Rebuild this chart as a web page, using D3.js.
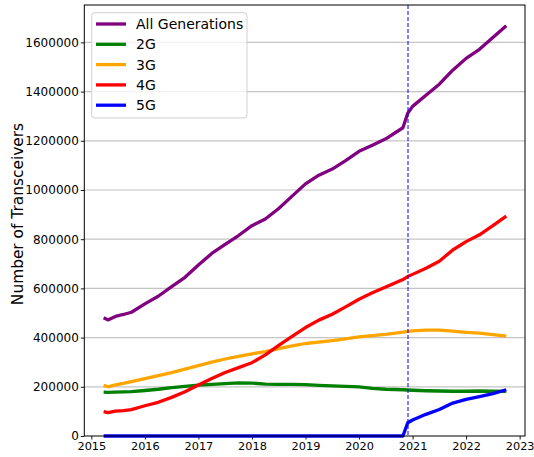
<!DOCTYPE html>
<html>
<head>
<meta charset="utf-8">
<script src="https://cdn.jsdelivr.net/npm/d3@7"></script>
<style>
  html, body { margin: 0; padding: 0; background: #fff; }
  svg { display: block; font-family: "DejaVu Sans", sans-serif; }
</style>
</head>
<body>
<svg id="chart" width="534" height="457"></svg>
<script>
// Decimal-year sample dates
const dates = [2015.23, 2015.31, 2015.45, 2015.6, 2015.75, 2016.0, 2016.25, 2016.5, 2016.75,
  2017.0, 2017.25, 2017.5, 2017.75, 2018.0, 2018.25, 2018.5, 2018.75, 2019.0, 2019.25, 2019.5,
  2019.75, 2020.0, 2020.25, 2020.5, 2020.82, 2020.91, 2021.0, 2021.25, 2021.5, 2021.75,
  2022.0, 2022.25, 2022.5, 2022.75];

const allGenerations = [481000, 472000, 486000, 494000, 503000, 537000, 568000, 607000, 645000,
  695000, 742000, 779000, 815000, 855000, 882000, 925000, 975000, 1025000, 1060000, 1085000,
  1119000, 1157000, 1182000, 1208000, 1253000, 1312000, 1340000, 1385000, 1430000, 1487000,
  1535000, 1572000, 1620000, 1668000];

const gen2G = [178000, 177000, 178000, 179000, 180000, 185000, 190000, 197000, 202000,
  207000, 210000, 213000, 216000, 215000, 211000, 210000, 210000, 209000, 206000, 204000,
  202000, 200000, 194000, 190000, 188000, 187000, 186000, 184000, 183000, 182000,
  182000, 183000, 182000, 181000];

const gen3G = [206000, 200000, 208000, 214000, 221000, 233000, 245000, 258000, 272000,
  286000, 300000, 313000, 324000, 334000, 343000, 355000, 366000, 376000, 382000, 388000,
  395000, 403000, 408000, 413000, 422000, 425000, 427000, 430000, 430000, 426000,
  421000, 418000, 412000, 406000];

const gen4G = [99000, 95000, 101000, 103000, 107000, 123000, 137000, 157000, 180000,
  207000, 234000, 258000, 278000, 298000, 330000, 368000, 405000, 441000, 471000, 495000,
  525000, 556000, 582000, 606000, 636000, 648000, 657000, 682000, 710000, 756000,
  790000, 818000, 855000, 894000];

const gen5G = [0, 0, 0, 0, 0, 0, 0, 0, 0,
  0, 0, 0, 0, 0, 0, 0, 0, 0, 0, 0,
  0, 0, 0, 0, 0, 54000, 65000, 88000, 108000, 134000,
  149000, 160000, 172000, 188000];

const seriesNames = ["All Generations", "2G", "3G", "4G", "5G"];
const seriesColors = ["#800080", "#008000", "#FFA500", "#FF0000", "#0000FF"];
const seriesValues = [allGenerations, gen2G, gen3G, gen4G, gen5G];

const xTickValues = [2015, 2016, 2017, 2018, 2019, 2020, 2021, 2022, 2023];
const yTickValues = [0, 200000, 400000, 600000, 800000, 1000000, 1200000, 1400000, 1600000];
const cutoverDate = 2020.915;
const yLabel = "Number of Transceivers";

const svg = d3.select("#chart");
const L = 84.3, R = 525, T = 5, B = 436;

const x = d3.scaleLinear().domain([2014.869, 2023.1]).range([L, R]);
const y = d3.scaleLinear().domain([0, 1752000]).range([B, T]);

// grid
svg.append("g").selectAll("line").data(yTickValues.filter(d => d > 0)).join("line")
  .attr("x1", L).attr("x2", R)
  .attr("y1", d => y(d)).attr("y2", d => y(d))
  .attr("stroke", "#c4c4c4").attr("stroke-width", 1.2);

// axes
const xAxis = svg.append("g").attr("transform", `translate(0,${B})`)
  .call(d3.axisBottom(x).tickValues(xTickValues).tickFormat(d3.format("d")).tickSize(3.5).tickPadding(2));
const yAxis = svg.append("g").attr("transform", `translate(${L},0)`)
  .call(d3.axisLeft(y).tickValues(yTickValues).tickFormat(d3.format("d")).tickSize(3.5).tickPadding(2));
[xAxis, yAxis].forEach(a => {
  a.select(".domain").remove();
  a.selectAll("text").attr("font-family", "DejaVu Sans").attr("fill", "#000");
  a.selectAll("line").attr("stroke", "#000").attr("stroke-width", 0.9);
});
xAxis.selectAll("text").attr("font-size", 11.3);
yAxis.selectAll("text").attr("font-size", 12);

// lines
const lineGen = d3.line().x((d, i) => x(dates[i])).y(d => y(d));
seriesValues.forEach((vals, k) => {
  svg.append("path").datum(vals)
    .attr("d", lineGen)
    .attr("fill", "none")
    .attr("stroke", seriesColors[k])
    .attr("stroke-width", 3.3)
    .attr("stroke-linejoin", "round")
    .attr("stroke-linecap", "butt");
});

// cutover dashed line
svg.append("line")
  .attr("x1", x(cutoverDate)).attr("x2", x(cutoverDate))
  .attr("y1", T).attr("y2", B)
  .attr("stroke", "#0000FF").attr("stroke-width", 1)
  .attr("stroke-dasharray", "4,2");

// frame
svg.append("rect").attr("x", L).attr("y", T).attr("width", R - L).attr("height", B - T)
  .attr("fill", "none").attr("stroke", "#000").attr("stroke-width", 1);

// y label
svg.append("text")
  .attr("transform", `translate(23,214) rotate(-90)`)
  .attr("text-anchor", "middle")
  .attr("font-size", 15.4)
  .text(yLabel);

// legend
const lg = svg.append("g");
lg.append("rect").attr("x", 91.7).attr("y", 12.7).attr("width", 155.3).attr("height", 105.3)
  .attr("rx", 3).attr("fill", "#fff").attr("fill-opacity", 0.8)
  .attr("stroke", "#d0d0d0").attr("stroke-width", 1);
seriesNames.forEach((name, k) => {
  const yy = 24 + k * 20.3;
  lg.append("line").attr("x1", 96).attr("x2", 126).attr("y1", yy).attr("y2", yy)
    .attr("stroke", seriesColors[k]).attr("stroke-width", 3.3);
  lg.append("text").attr("x", 136).attr("y", yy).attr("dy", "0.36em")
    .attr("font-size", 14).text(name);
});
</script>
</body>
</html>
